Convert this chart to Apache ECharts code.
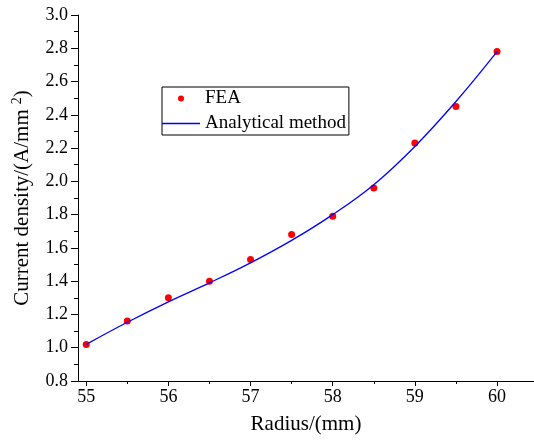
<!DOCTYPE html>
<html><head><meta charset="utf-8">
<script src="https://cdn.jsdelivr.net/npm/echarts@6/dist/echarts.min.js"></script>
<style>html,body{margin:0;padding:0;background:#fff}#c{width:534px;height:440px}</style>
</head><body><div id="c"></div>
<script>
const radius = [55, 55.5, 56, 56.5, 57, 57.5, 58, 58.5, 59, 59.5, 60];
const feaValues = [1.02, 1.16, 1.30, 1.40, 1.53, 1.68, 1.79, 1.96, 2.23, 2.45, 2.78];
const analyticalValues = [1.02, 1.153, 1.276, 1.39, 1.51, 1.645, 1.80, 1.98, 2.21, 2.48, 2.78];
const xMajorTicks = [55, 56, 57, 58, 59, 60];
const xMinorTicks = [55.5, 56.5, 57.5, 58.5, 59.5];
const seriesNames = ['FEA', 'Analytical method'];

const font = "'Liberation Serif', 'Times New Roman', serif";
const chart = echarts.init(document.getElementById('c'), null, {renderer: 'canvas'});
chart.setOption({
  animation: false,
  backgroundColor: '#fff',
  grid: {left: 78, right: 0, top: 15, bottom: 57, containLabel: false},
  legend: {
    orient: 'vertical', left: 162, top: 87,
    data: [
      {name: seriesNames[0], icon: 'circle'},
      {name: seriesNames[1], icon: 'path://M0,0L38,0L38,1.3L0,1.3Z'}
    ],
    itemWidth: 38, itemHeight: 6, itemGap: 4,
    padding: [1, 3, 1, 0],
    borderColor: '#000', borderWidth: 1, backgroundColor: '#fff',
    textStyle: {fontFamily: font, fontSize: 19, color: '#000', lineHeight: 21}
  },
  xAxis: [{
    type: 'value', min: 54.9, max: 60.45,
    name: 'Radius/(mm)', nameLocation: 'middle', nameGap: 33,
    nameTextStyle: {fontFamily: font, fontSize: 21, color: '#000'},
    axisLine: {lineStyle: {color: '#000', width: 1}},
    axisTick: {show: true, inside: false, length: 5, customValues: xMajorTicks, lineStyle: {color: '#000'}},
    axisLabel: {customValues: xMajorTicks, fontFamily: font, fontSize: 18, color: '#000', margin: 7},
    splitLine: {show: false}
  }, {
    type: 'value', min: 54.9, max: 60.45, position: 'bottom',
    axisLine: {show: false},
    axisTick: {show: true, inside: false, length: 3, customValues: xMinorTicks, lineStyle: {color: '#000'}},
    axisLabel: {show: false},
    splitLine: {show: false}
  }],
  yAxis: {
    type: 'value', min: 0.8, max: 3.0, interval: 0.2,
    name: '{a|Current density/(A/mm}{s|2}{a|)}', nameLocation: 'middle', nameGap: 44, nameRotate: 90,
    nameTextStyle: {
      fontFamily: font, fontSize: 21, color: '#000',
      rich: {
        a: {fontFamily: font, fontSize: 21, color: '#000'},
        s: {fontFamily: font, fontSize: 14, color: '#000', padding: [0, 0, 10, 5]}
      }
    },
    axisLine: {show: true, lineStyle: {color: '#000', width: 1}},
    axisTick: {show: true, inside: false, length: 7, lineStyle: {color: '#000'}},
    minorTick: {show: true, splitNumber: 2, length: 4, lineStyle: {color: '#000'}},
    axisLabel: {fontFamily: font, fontSize: 18, color: '#000', margin: 10, formatter: v => v.toFixed(1)},
    splitLine: {show: false}
  },
  series: [{
    name: seriesNames[0], type: 'scatter', xAxisIndex: 0,
    data: radius.map((r, i) => [r, feaValues[i]]),
    symbol: 'circle', symbolSize: 7,
    itemStyle: {color: '#ff0000', opacity: 1}
  }, {
    name: seriesNames[1], type: 'line', xAxisIndex: 0,
    data: radius.map((r, i) => [r, analyticalValues[i]]),
    smooth: 0.4, showSymbol: false, symbol: 'none',
    lineStyle: {color: '#0000ff', width: 1.3},
    itemStyle: {color: '#0000ff'}
  }]
});
</script></body></html>
